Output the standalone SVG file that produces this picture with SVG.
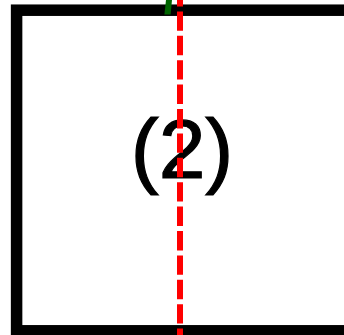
<svg xmlns="http://www.w3.org/2000/svg" width="344" height="335" viewBox="0 0 344 335">
  <style>
    .frame { fill: #ffffff; stroke: #000000; stroke-width: 11.5; }
    .label { font-family: "Liberation Sans", Arial, sans-serif; font-size: 84px; fill: #000000; stroke: #000000; stroke-width: 1.2; }
    .axis { stroke: #ff0000; stroke-width: 6; stroke-dasharray: 19.4 5; stroke-dashoffset: 13; fill: none; }
    .tick { fill: #006400; }
  </style>
  <rect width="344" height="335" fill="#ffffff"/>
  <g id="node-2">
    <rect class="frame" x="16.6" y="10.2" width="400" height="320.6"/>
    <text class="label" x="182" y="178" text-anchor="middle">(2)</text>
  </g>
  <g id="marker-green">
    <polygon class="tick" points="166,0 172,0 170.6,14.6 164.4,14.6"/>
  </g>
  <g id="connectors">
    <line class="axis" x1="180" y1="0" x2="180" y2="335"/>
  </g>
</svg>
